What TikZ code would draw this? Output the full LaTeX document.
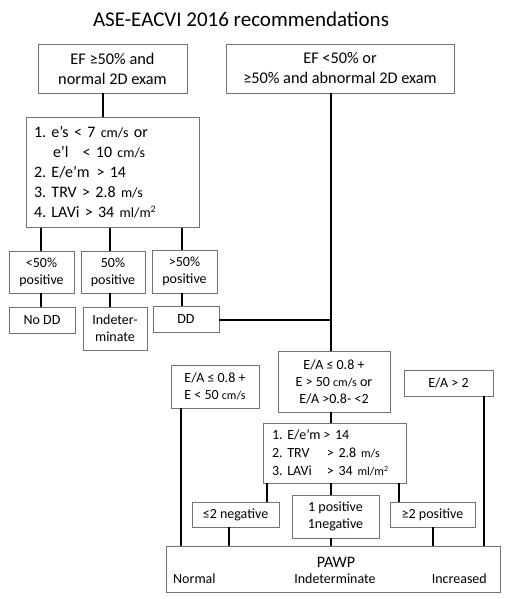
\documentclass[tikz,border=0pt]{standalone}
\usepackage{fontspec}
\setmainfont{Carlito}
\frenchspacing
\newcommand\myfs[2]{\fontsize{#1}{#2}\selectfont}
\newcommand\unitA[1]{{\fontsize{14}{16}\selectfont #1}}
\newcommand\unitB[1]{{\fontsize{12}{14}\selectfont #1}}
\begin{document}
\begin{tikzpicture}[x=1pt,y=-1pt,
  box/.style={draw=black!55, line width=0.8pt, rectangle, inner sep=0pt, align=center, font=\myfs{14}{17}},
  bigbox/.style={box, font=\myfs{16.3}{20}},
  lbl/.style={inner sep=0pt, font=\myfs{14}{17}},
  con/.style={draw=black, line width=1.1pt}]
\useasboundingbox (0,0) rectangle (508,599);
\fill[white] (0,0) rectangle (508,599);

\node[inner sep=0pt, font=\myfs{21}{25}] (title) at (241,19.5) {ASE-EACVI 2016 recommendations};

% top boxes
\node[bigbox, minimum width=149pt, minimum height=49pt] (A) at (112.5,68.5) {EF ≥50\% and\\normal 2D exam};
\node[bigbox, minimum width=228pt, minimum height=49pt] (B) at (340,68.5) {EF <50\% or\\≥50\% and abnormal 2D exam};

% criteria box
\node[bigbox, font=\myfs{16}{20}, minimum width=173pt, minimum height=110pt, inner xsep=8pt, text width=157pt, align=left] (crit) at (112.5,172.5)
  {1. e’s < 7 \unitA{cm/s} or\\
   \hspace*{19pt}e’l\hspace*{14pt}< 10 \unitA{cm/s}\\
   2. E/e’m\hspace*{7pt}> 14\\
   3. TRV > 2.8 \unitA{m/s}\\
   4. LAVi > 34 \unitA{ml/m\textsuperscript{2}}};

% percent boxes
\node[box, minimum width=65pt, minimum height=42pt] (P1) at (41.5,272) {<50\%\\positive};
\node[box, minimum width=64pt, minimum height=42pt] (P2) at (113,272) {50\%\\positive};
\node[box, minimum width=65pt, minimum height=43pt] (P3) at (184.5,271.5) {>50\%\\positive};

% result boxes
\node[box, minimum width=66pt, minimum height=26pt] (R1) at (42,320) {No DD};
\node[box, minimum width=64pt, minimum height=43pt] (R2) at (115,328.5) {Indeter-\\minate};
\node[box, minimum width=66pt, minimum height=26pt] (R3) at (186,319) {DD};

% E/A boxes
\node[box, minimum width=112pt, minimum height=61pt] (M) at (334,381.5) {E/A ≤ 0.8 +\\E > 50 \unitB{cm/s} or\\E/A >0.8- <2};
\node[box, minimum width=88pt, minimum height=43pt] (L) at (215,386.5) {E/A ≤ 0.8 +\\E < 50 \unitB{cm/s}};
\node[box, minimum width=89pt, minimum height=26pt] (Rt) at (448.5,383) {E/A > 2};

% second criteria box
\node[box, font=\myfs{14}{18}, minimum width=143pt, minimum height=60pt, inner xsep=9pt, text width=125pt, align=left] (C2) at (334.5,453)
  {\makebox[51.5pt][l]{1. E/e’m}> 14\\
   \makebox[55pt][l]{2. TRV}> 2.8 \unitB{m/s}\\
   \makebox[55pt][l]{3. LAVi}> 34 \unitB{ml/m\textsuperscript{2}}};

% count boxes
\node[box, minimum width=87pt, minimum height=25pt] (N) at (235.5,514.5) {≤2 negative};
\node[box, minimum width=87pt, minimum height=43pt] (O) at (335.5,516.5) {1 positive\\1negative};
\node[box, minimum width=85pt, minimum height=25pt] (Pp) at (432.5,514.5) {≥2 positive};

% PAWP box
\node[box, minimum width=334pt, minimum height=46pt] (PAWP) at (333,569) {};
\node[inner sep=0pt, font=\myfs{16}{19}] (pawpt) at (336,562) {PAWP};
\node[lbl, anchor=west] (nrm) at (173,579) {Normal};
\node[lbl] (ind) at (335,579) {Indeterminate};
\node[lbl, anchor=east] (inc) at (487,579) {Increased};

% connectors
\coordinate (j) at (331,320);
\draw[con] ([xshift=-9.5pt]A.south) -- ([xshift=-9.5pt]A.south |- crit.north);
\draw[con] (B.south -| j) -- (M.north -| j);
\draw[con] (R3.east |- j) -- (j);

\draw[con] ([xshift=-0.5pt]P1.north |- crit.south) -- ([xshift=-0.5pt]P1.north);
\draw[con] ([xshift=-3pt]P2.north |- crit.south) -- ([xshift=-3pt]P2.north);
\draw[con] ([xshift=-2.5pt]P3.north |- crit.south) -- ([xshift=-2.5pt]P3.north);
\draw[con] ([xshift=-0.5pt]P1.south) -- ([xshift=-0.5pt]P1.south |- R1.north);
\draw[con] ([xshift=-3pt]P2.south) -- ([xshift=-3pt]P2.south |- R2.north);
\draw[con] ([xshift=-2.5pt]P3.south) -- ([xshift=-2.5pt]P3.south |- R3.north);

\draw[con] (M.south -| j) -- (C2.north -| j);
\draw[con] (C2.south -| j) -- (O.north -| j);
\draw[con] (O.south -| j) -- (PAWP.north -| j);
\draw[con] ([xshift=-67.5pt]C2.south) -- ([xshift=-67.5pt]C2.south |- N.north);
\draw[con] ([xshift=64.5pt]C2.south) -- ([xshift=64.5pt]C2.south |- Pp.north);
\draw[con] ([xshift=-6.5pt]N.south) -- ([xshift=-6.5pt]N.south |- PAWP.north);
\draw[con] ([xshift=0.5pt]Pp.south) -- ([xshift=0.5pt]Pp.south |- PAWP.north);
\draw[con] ([xshift=-34pt]L.south) -- ([xshift=-34pt]L.south |- PAWP.north);
\draw[con] ([xshift=35.5pt]Rt.south) -- ([xshift=35.5pt]Rt.south |- PAWP.north);
\end{tikzpicture}
\end{document}
